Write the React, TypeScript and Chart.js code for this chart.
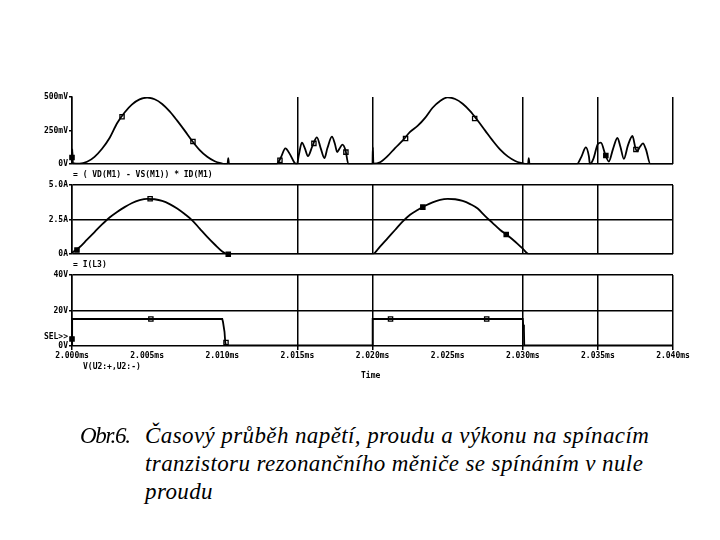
import React, { useEffect, useRef } from 'react';
import { Chart, registerables } from 'chart.js';
Chart.register(...registerables);

// ---------- axis data ----------
const X_TICKS = [2.0, 2.005, 2.01, 2.015, 2.02, 2.025, 2.03, 2.035, 2.04];
const X_TICK_LABELS = ['2.000ms', '2.005ms', '2.010ms', '2.015ms', '2.020ms', '2.025ms', '2.030ms', '2.035ms', '2.040ms'];
const X_GRID = [2.0, 2.015, 2.02, 2.03, 2.035, 2.04];

const P_TICKS = [0, 250, 500];
const P_LABELS = ['0V', '250mV', '500mV'];
const P_GRID = [0];

const I_TICKS = [0, 2.5, 5];
const I_LABELS = ['0A', '2.5A', '5.0A'];
const I_GRID = [0, 2.5, 5];

const V_TICKS = [0, 5, 20, 40];
const V_LABELS = ['0V', 'SEL>>', '20V', '40V'];
const V_GRID = [0, 20, 40];

// ---------- power trace (mV) ----------
const POWER_T = [
  2.0, 2.00002, 2.00006, 2.0005, 2.001, 2.0015, 2.002, 2.0025, 2.003, 2.0035, 2.004, 2.0045, 2.005,
  2.0055, 2.006, 2.0065, 2.007, 2.0075, 2.008, 2.0085, 2.009, 2.0095, 2.01, 2.0102,
  2.01035, 2.0104, 2.01045,
  2.0136, 2.0139, 2.0142, 2.0145, 2.0148, 2.01497, 2.0151, 2.0153, 2.0155, 2.0157, 2.016, 2.0163,
  2.01655, 2.0168, 2.017, 2.0173, 2.0175, 2.01765, 2.0178, 2.018, 2.0182, 2.0184,
  2.02, 2.02002, 2.02006, 2.0205, 2.021, 2.0215, 2.022, 2.0225, 2.023, 2.0235, 2.024, 2.0245, 2.025,
  2.0255, 2.026, 2.0265, 2.027, 2.0275, 2.028, 2.0285, 2.029, 2.0295, 2.03, 2.0302,
  2.03035, 2.0304, 2.03045,
  2.0336, 2.0339, 2.0342, 2.0344, 2.03447, 2.0347, 2.035, 2.0352, 2.0355, 2.03573, 2.036, 2.0363,
  2.0365, 2.03673, 2.037, 2.0373, 2.0375, 2.0376, 2.0378, 2.038, 2.0382, 2.0385, 2.04,
];
const POWER_MV = [
  0, 110, 8, 4, 18, 55, 115, 195, 305, 385, 445, 482, 495,
  483, 448, 393, 324, 250, 173, 105, 55, 22, 5, 0,
  0, 45, 0,
  0, 50, 118, 75, 12, 0, 70, 160, 118, 60, 135, 200,
  120, 45, 120, 205, 150, 90, 115, 145, 105, 0,
  0, 125, 5, 15, 60, 120, 175, 240, 285, 345, 420, 470, 497,
  485, 450, 395, 325, 250, 175, 108, 58, 24, 6, 0,
  0, 45, 0,
  0, 55, 125, 60, 0, 40, 150, 160, 70, 20, 110, 195,
  130, 40, 140, 210, 120, 95, 130, 155, 110, 0, 0,
];
const POWER_MARK_T = [2.0, 2.00333, 2.00805, 2.01384, 2.0161, 2.01823, 2.0222, 2.0268, 2.03553, 2.03753];
const POWER_MARK_MV = [50, 353, 169, 30, 155, 90, 191, 340, 65, 110];
const POWER_MARK_FILLED = [true, false, false, false, false, false, false, false, true, false];

// ---------- current trace (A) ----------
const CURRENT_T = [
  2.0, 2.0005, 2.001, 2.0015, 2.002, 2.0025, 2.003, 2.0035, 2.004, 2.0045, 2.005,
  2.0055, 2.006, 2.0065, 2.007, 2.0075, 2.008, 2.0085, 2.009, 2.0095, 2.01, 2.0104,
  2.02, 2.0205, 2.021, 2.0215, 2.022, 2.0225, 2.023, 2.0235, 2.024, 2.0245, 2.025,
  2.0255, 2.026, 2.0265, 2.027, 2.0275, 2.028, 2.0285, 2.029, 2.0295, 2.03, 2.0304, 2.04,
];
const CURRENT_A = [
  0.1, 0.5, 1.05, 1.6, 2.15, 2.65, 3.05, 3.4, 3.7, 3.9, 4.0,
  3.97, 3.85, 3.62, 3.3, 2.9, 2.45, 1.85, 1.25, 0.7, 0.2, 0,
  0, 0.55, 1.15, 1.75, 2.35, 2.85, 3.2, 3.5, 3.75, 3.93, 4.0,
  3.97, 3.85, 3.62, 3.3, 2.75, 2.25, 1.75, 1.35, 0.9, 0.4, 0, 0,
];
const CURRENT_MARK_T = [2.00033, 2.0052, 2.0104, 2.02335, 2.0289];
const CURRENT_MARK_A = [0.3, 4.0, 0, 3.4, 1.43];
const CURRENT_MARK_FILLED = [true, false, true, true, true];

// ---------- voltage trace (V) ----------
const VOLT_T = [2.0, 2.00001, 2.01, 2.01005, 2.01015, 2.0102, 2.01025, 2.02, 2.02001, 2.03, 2.03003, 2.03008, 2.0301, 2.04];
const VOLT_V = [0, 15.2, 15.2, 13.5, 8, 2, 0.3, 0.3, 15.2, 15.2, 12, 9, 0.3, 0.3];
const VOLT_MARK_T = [2.0, 2.00525, 2.01025, 2.0212, 2.0276];
const VOLT_MARK_V = [4, 15.2, 2, 15.2, 15.2];
const VOLT_MARK_FILLED = [true, false, false, false, false];

const TICK_FONT = { family: 'DejaVu Sans Mono', size: 8, weight: 'bold' as const };
const Y_FONT = { family: 'DejaVu Sans Mono', size: 8, weight: 'bold' as const };

const near = (arr: number[], v: number) => arr.some((g) => Math.abs(g - v) < 1e-7);

interface PanelSpec {
  top: number;
  height: number;
  padTop: number;
  padBottom: number;
  showX: boolean;
  yMax: number;
  yTicks: number[];
  yLabels: string[];
  yGrid: number[];
  lineT: number[];
  lineV: number[];
  smooth: boolean;
  markT: number[];
  markV: number[];
  markFilled: boolean[];
}

function Panel({ spec }: { spec: PanelSpec }) {
  const ref = useRef<HTMLCanvasElement | null>(null);
  useEffect(() => {
    if (!ref.current) return;
    const s = spec;
    const chart = new Chart(ref.current, {
      type: 'line',
      data: {
        datasets: [
          {
            data: s.lineT.map((t, i) => ({ x: t, y: s.lineV[i] })),
            borderColor: '#000',
            borderWidth: 1.8,
            pointRadius: 0,
            fill: false,
            tension: s.smooth ? 0.4 : 0,
            cubicInterpolationMode: s.smooth ? 'monotone' : 'default',
          } as any,
          {
            data: s.markT.map((t, i) => ({ x: t, y: s.markV[i] })),
            showLine: false,
            pointStyle: 'rect',
            pointRadius: 3,
            pointBorderColor: '#000',
            pointBorderWidth: 1.3,
            pointBackgroundColor: s.markFilled.map((f) => (f ? '#000' : '#fff')),
            clip: false,
          } as any,
        ],
      },
      options: {
        responsive: false,
        animation: false,
        events: [],
        layout: { padding: { left: 0, right: 720 - 673, top: s.padTop, bottom: s.padBottom } },
        plugins: { legend: { display: false }, tooltip: { enabled: false } },
        scales: {
          x: {
            type: 'linear',
            min: 2.0,
            max: 2.04,
            afterBuildTicks: (sc: any) => {
              sc.ticks = X_TICKS.map((v) => ({ value: v }));
            },
            afterFit: (sc: any) => {
              sc.height = s.showX ? 19 : 0;
            },
            border: { display: false },
            grid: {
              color: (c: any) => (c.tick && near(X_GRID, c.tick.value) ? '#000' : 'rgba(0,0,0,0)'),
              lineWidth: 1.5,
              drawTicks: s.showX,
              tickLength: 4,
            },
            ticks: {
              display: s.showX,
              autoSkip: false,
              maxRotation: 0,
              padding: 1,
              color: '#000',
              font: TICK_FONT,
              callback: (_v: any, i: number) => X_TICK_LABELS[i],
            },
          },
          y: {
            type: 'linear',
            min: 0,
            max: s.yMax,
            afterBuildTicks: (sc: any) => {
              sc.ticks = s.yTicks.map((v) => ({ value: v }));
            },
            afterFit: (sc: any) => {
              sc.width = 72;
            },
            border: { display: true, color: '#000', width: 1.5 },
            grid: {
              color: (c: any) => (c.tick && near(s.yGrid, c.tick.value) ? '#000' : 'rgba(0,0,0,0)'),
              tickColor: (c: any) => (c.tick && s.yLabels[c.index] === 'SEL>>' ? 'rgba(0,0,0,0)' : '#000'),
              lineWidth: 1.5,
              tickLength: 3,
            },
            ticks: {
              autoSkip: false,
              padding: 1,
              color: '#000',
              font: Y_FONT,
              callback: (_v: any, i: number) => s.yLabels[i],
            },
          },
        },
      } as any,
    });
    return () => chart.destroy();
  }, [spec]);
  return (
    <canvas
      ref={ref}
      width={720}
      height={spec.height}
      style={{ position: 'absolute', left: 0, top: spec.top, width: 720, height: spec.height }}
    />
  );
}

const PANELS: PanelSpec[] = [
  {
    top: 80, height: 90, padTop: 17, padBottom: 5, showX: false,
    yMax: 500, yTicks: P_TICKS, yLabels: P_LABELS, yGrid: P_GRID,
    lineT: POWER_T, lineV: POWER_MV, smooth: true,
    markT: POWER_MARK_T, markV: POWER_MARK_MV, markFilled: POWER_MARK_FILLED,
  },
  {
    top: 172, height: 88, padTop: 13, padBottom: 5, showX: false,
    yMax: 5, yTicks: I_TICKS, yLabels: I_LABELS, yGrid: I_GRID,
    lineT: CURRENT_T, lineV: CURRENT_A, smooth: true,
    markT: CURRENT_MARK_T, markV: CURRENT_MARK_A, markFilled: CURRENT_MARK_FILLED,
  },
  {
    top: 265, height: 100, padTop: 10, padBottom: 0, showX: true,
    yMax: 40, yTicks: V_TICKS, yLabels: V_LABELS, yGrid: V_GRID,
    lineT: VOLT_T, lineV: VOLT_V, smooth: false,
    markT: VOLT_MARK_T, markV: VOLT_MARK_V, markFilled: VOLT_MARK_FILLED,
  },
];

const monoLabel: React.CSSProperties = {
  position: 'absolute',
  fontFamily: 'DejaVu Sans Mono',
  fontWeight: 'bold',
  fontSize: 8,
  lineHeight: '10px',
  whiteSpace: 'pre',
  color: '#000',
};

const captionStyle: React.CSSProperties = {
  position: 'absolute',
  fontFamily: "'Liberation Serif', 'Times New Roman', serif",
  fontStyle: 'italic',
  fontSize: 23,
  letterSpacing: '0.4px',
  lineHeight: '28px',
  whiteSpace: 'pre',
  color: '#000',
};

export default function App() {
  return (
    <div style={{ position: 'absolute', left: 0, top: 0, width: 720, height: 540, background: '#fff', overflow: 'hidden' }}>
      {PANELS.map((p, i) => (
        <Panel key={i} spec={p} />
      ))}
      <div style={{ ...monoLabel, left: 73, top: 170 }}>{'= ( VD(M1) - VS(M1)) * ID(M1)'}</div>
      <div style={{ ...monoLabel, left: 73, top: 260 }}>{'= I(L3)'}</div>
      <div style={{ ...monoLabel, left: 83, top: 362 }}>{'V(U2:+,U2:-)'}</div>
      <div style={{ ...monoLabel, left: 361, top: 371 }}>{'Time'}</div>
      <div style={{ ...captionStyle, left: 80, top: 422, letterSpacing: '-1.3px' }}>{'Obr.6.'}</div>
      <div style={{ ...captionStyle, left: 145, top: 422 }}>
        {'Časový průběh napětí, proudu a výkonu na spínacím\ntranzistoru rezonančního měniče se spínáním v nule\nproudu'}
      </div>
    </div>
  );
}
